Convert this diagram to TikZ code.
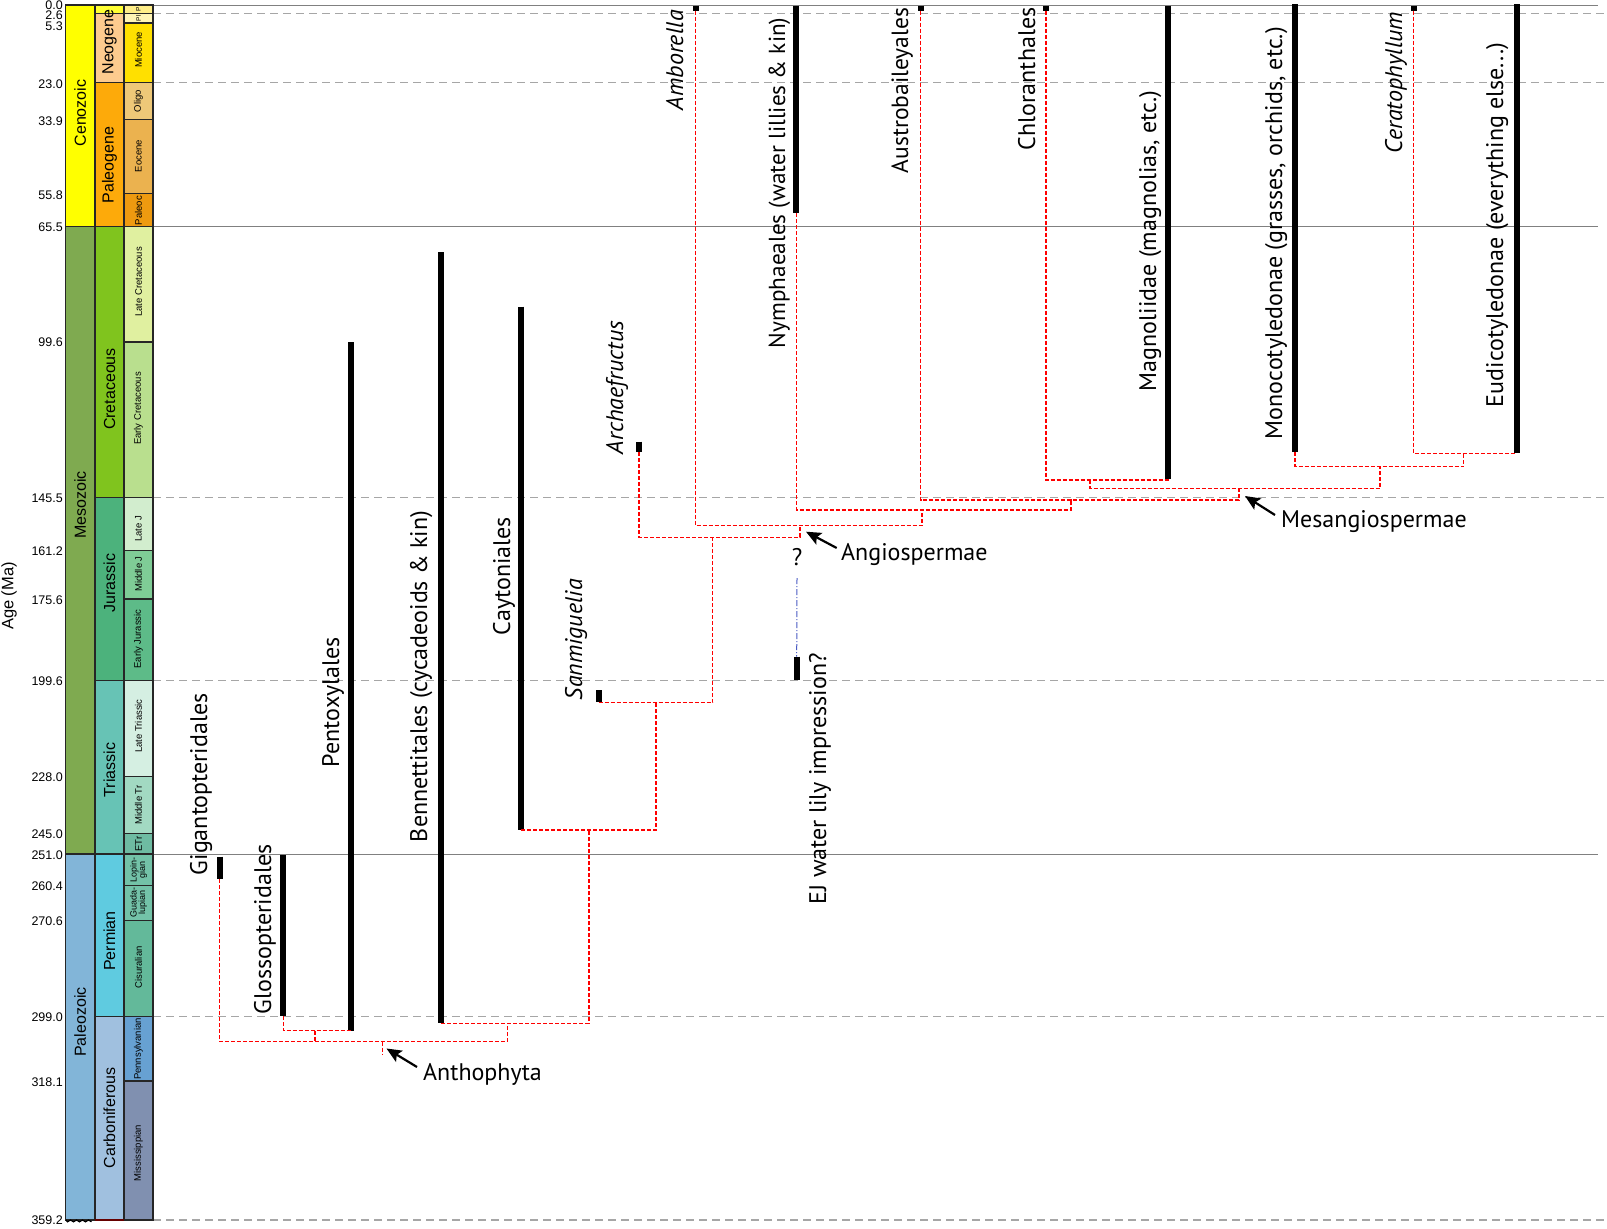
\documentclass[tikz,border=0pt]{standalone}
\usepackage{fontspec}
\setmainfont{PT Sans}
\newfontfamily\tsfont{Liberation Sans}
\usetikzlibrary{arrows.meta}
\pgfmathdeclarefunction{ay}{1}{\pgfmathparse{5+3.3825*#1}}
\definecolor{cenoz}{HTML}{FFFF00}
\definecolor{mesoz}{HTML}{7FAA50}
\definecolor{paleoz}{HTML}{82B5D8}
\definecolor{quat}{HTML}{FFFF33}
\definecolor{neog}{HTML}{FDCB8E}
\definecolor{paleog}{HTML}{FDAA0A}
\definecolor{cret}{HTML}{80C41E}
\definecolor{jur}{HTML}{4CB27C}
\definecolor{tri}{HTML}{67C3B5}
\definecolor{perm}{HTML}{5FCBE0}
\definecolor{carb}{HTML}{A0C0DF}
\definecolor{e1}{HTML}{FFEE88}
\definecolor{e2}{HTML}{FFF5B5}
\definecolor{mio}{HTML}{FFE000}
\definecolor{oli}{HTML}{EEC878}
\definecolor{eoc}{HTML}{EBB24F}
\definecolor{pal}{HTML}{EE9A10}
\definecolor{lcr}{HTML}{E0F0A0}
\definecolor{ecr}{HTML}{B9DF8E}
\definecolor{lj}{HTML}{D2EDCE}
\definecolor{mj}{HTML}{7FCC96}
\definecolor{ej}{HTML}{5DBB88}
\definecolor{ltr}{HTML}{D5EFE2}
\definecolor{mtr}{HTML}{A2D9C2}
\definecolor{etr}{HTML}{6EBBA2}
\definecolor{lop}{HTML}{73C2A8}
\definecolor{gua}{HTML}{73C2A8}
\definecolor{cis}{HTML}{63B99A}
\definecolor{pen}{HTML}{67A1D2}
\definecolor{mis}{HTML}{8090B0}
\definecolor{ejblue}{HTML}{4A5BC4}
\newcommand\taxfont{\fontsize{24}{28}\selectfont}
\begin{document}
\begin{tikzpicture}[x=1pt,y=-1pt,
  bar/.style={line width=6pt},
  clade/.style={red, line width=1.5pt, dash pattern=on 4pt off 2pt},
  gsolid/.style={black!50, line width=1pt},
  gdash/.style={black!35, line width=1.2pt, dash pattern=on 8pt off 5pt},
  tsbox/.style={draw=black!85, line width=1.3pt},
  taxon/.style={rotate=90, anchor=base west, inner sep=0pt, outer sep=0pt, font=\taxfont},
  itaxon/.style={taxon, font=\taxfont\itshape},
  hlab/.style={anchor=base west, inner sep=0pt, font=\taxfont},
  agelab/.style={anchor=east, inner sep=0pt, font=\tsfont\fontsize{12.5}{14}\selectfont},
  eralab/.style={rotate=90, inner sep=0pt, font=\tsfont\fontsize{16}{18}\selectfont},
  eplab/.style={rotate=90, inner sep=0pt, align=center, font=\tsfont\fontsize{9.5}{9.5}\selectfont},
  ptr/.style={-{Stealth[length=15pt,width=13pt,inset=3pt]}, line width=2.2pt},
  ejline/.style={ejblue, line width=1pt, dash pattern=on 6pt off 2pt on 1pt off 2pt}
]
\useasboundingbox (0,0) rectangle (1607,1229);
\fill[white] (0,0) rectangle (1607,1229);

% ---------- reference lines ----------
\draw[gsolid] (153,{ay(0)}) -- (1598,{ay(0)});
\draw[gdash] (153,{ay(2.6)}) -- (1607,{ay(2.6)});
\draw[gdash] (153,{ay(23)}) -- (1607,{ay(23)});
\draw[gsolid] (153,{ay(65.5)}) -- (1598,{ay(65.5)});
\draw[gdash] (153,{ay(145.5)}) -- (1607,{ay(145.5)});
\draw[gdash] (153,{ay(199.6)}) -- (1607,{ay(199.6)});
\draw[gsolid] (153,{ay(251)}) -- (1598,{ay(251)});
\draw[gdash] (153,{ay(299)}) -- (1607,{ay(299)});
\draw[gdash] (153,{ay(359.2)}) -- (1607,{ay(359.2)});

% ---------- time scale ----------
\foreach \a/\b/\c in {0/65.5/cenoz,65.5/251/mesoz,251/359.2/paleoz}
  \draw[tsbox,fill=\c] (65.5,{ay(\a)}) rectangle (95,{ay(\b)});
\foreach \a/\b/\c in {0/2.6/quat,2.6/23/neog,23/65.5/paleog,65.5/145.5/cret,145.5/199.6/jur,199.6/251/tri,251/299/perm,299/359.2/carb}
  \draw[tsbox,fill=\c] (95,{ay(\a)}) rectangle (124,{ay(\b)});
\foreach \a/\b/\c in {0/2.6/e1,2.6/5.3/e2,5.3/23/mio,23/33.9/oli,33.9/55.8/eoc,55.8/65.5/pal,65.5/99.6/lcr,99.6/145.5/ecr,145.5/161.2/lj,161.2/175.6/mj,175.6/199.6/ej,199.6/228/ltr,228/245/mtr,245/251/etr,251/260.4/lop,260.4/270.6/gua,270.6/299/cis,299/318.1/pen,318.1/359.2/mis}
  \draw[tsbox,fill=\c] (124,{ay(\a)}) rectangle (153,{ay(\b)});
\draw[line width=1.3pt, red!40!black] (95,{ay(359.2)}) -- (124,{ay(359.2)});
\draw[line width=1.2pt] (66,1220) \foreach \i in {0,...,8} {-- ({67.5+3*\i},{1220+1.8*mod(\i+1,2)})};

\node[eralab] (era-cen) at (80.25,113) {Cenozoic};
\node[eralab] (era-mes) at (80.25,505) {Mesozoic};
\node[eralab] (era-pal) at (80.25,1022) {Paleozoic};
\node[eralab] (per-neo) at (109.5,42) {Neogene};
\node[eralab] (per-pal) at (109.5,165) {Paleogene};
\node[eralab] (per-cre) at (109.5,389) {Cretaceous};
\node[eralab] (per-jur) at (109.5,583) {Jurassic};
\node[eralab] (per-tri) at (109.5,770) {Triassic};
\node[eralab] (per-per) at (109.5,941) {Permian};
\node[eralab] (per-car) at (109.5,1118) {Carboniferous};

\node[eplab, font=\tsfont\fontsize{6.5}{6.5}\selectfont] (ep-1) at (138.5,{ay(1.3)}) {P};
\node[eplab, font=\tsfont\fontsize{6.5}{6.5}\selectfont] (ep-2) at (138.5,{ay(3.95)}) {Pl};
\node[eplab] (ep-mio) at (138.5,50) {Miocene};
\node[eplab] (ep-oli) at (138.5,101) {Oligo};
\node[eplab] (ep-eoc) at (138.5,156) {Eocene};
\node[eplab] (ep-pal) at (138.5,210.5) {Paleoc};
\node[eplab] (ep-lcr) at (138.5,282) {Late Cretaceous};
\node[eplab] (ep-ecr) at (138.5,408.5) {Early Cretaceous};
\node[eplab] (ep-lj) at (138.5,529) {Late J};
\node[eplab] (ep-mj) at (138.5,574) {Middle J};
\node[eplab] (ep-ej) at (138.5,639) {Early Jurassic};
\node[eplab] (ep-ltr) at (138.5,726) {Late Triassic};
\node[eplab] (ep-mtr) at (138.5,805) {Middle Tr};
\node[eplab] (ep-etr) at (138.5,844) {ETr};
\node[eplab, font=\tsfont\fontsize{9}{8.5}\selectfont] (ep-lop) at (138.5,869.5) {Lopin-\\gian};
\node[eplab, font=\tsfont\fontsize{9}{8.5}\selectfont] (ep-gua) at (138.5,902.5) {Guada-\\lupian};
\node[eplab] (ep-cis) at (138.5,967.5) {Cisuralian};
\node[eplab] (ep-pen) at (138.5,1049) {Pennsylvanian};
\node[eplab] (ep-mis) at (138.5,1153) {Mississippian};

\foreach \t/\yy in {0.0/5.5,2.6/15,5.3/26.5,23.0/84,33.9/121,55.8/195,65.5/227.5,99.6/342.5,145.5/498,161.2/551,175.6/600,199.6/681,228.0/777,245.0/834,251.0/855,260.4/886,270.6/921,299.0/1017,318.1/1082,359.2/1220}
  \node[agelab] (age-\t) at (63,\yy) {\t};
\node[rotate=90, inner sep=0pt, font=\tsfont\fontsize{16.5}{18}\selectfont] (axis-title) at (9,596) {Age (Ma)};

% ---------- taxon ranges ----------
\coordinate (gig-t) at (219.5,856.5);  \coordinate (gig-b) at (219.5,879);
\coordinate (glo-t) at (283.3,855);    \coordinate (glo-b) at (283.3,1016);
\coordinate (pen-t) at (351.2,342.3);  \coordinate (pen-b) at (351.2,1030.7);
\coordinate (ben-t) at (441.3,252.3);  \coordinate (ben-b) at (441.3,1023.3);
\coordinate (cay-t) at (521.3,306.7);  \coordinate (cay-b) at (521.3,830);
\coordinate (san-t) at (598.5,690);    \coordinate (san-b) at (598.5,702.3);
\coordinate (arc-t) at (639,441.7);    \coordinate (arc-b) at (639,452.3);
\coordinate (amb-t) at (695.5,5.7);    \coordinate (amb-b) at (695.5,10.7);
\coordinate (nym-t) at (796.3,5.7);    \coordinate (nym-b) at (796.3,213.3);
\coordinate (ejl-t) at (796.7,656.7);  \coordinate (ejl-b) at (796.7,680);
\coordinate (aus-t) at (920.5,5.7);    \coordinate (aus-b) at (920.5,10.7);
\coordinate (chl-t) at (1046,5.7);     \coordinate (chl-b) at (1046,10.7);
\coordinate (mag-t) at (1168,5.7);     \coordinate (mag-b) at (1168,479.3);
\coordinate (mon-t) at (1295,4);       \coordinate (mon-b) at (1295,452.3);
\coordinate (cer-t) at (1413.5,5.7);   \coordinate (cer-b) at (1413.5,10.7);
\coordinate (eud-t) at (1516.5,4);     \coordinate (eud-b) at (1516.5,453.3);

\foreach \n in {gig,glo,pen,ben,cay,san,arc,amb,nym,ejl,aus,chl,mag,mon,cer,eud}
  \draw[bar] (\n-t) -- (\n-b);

% ---------- clade junctions ----------
\coordinate (ce-t) at (1463.5,453.3);
\coordinate (me-t) at (1380,466.7);
\coordinate (cm-t) at (1090,480);
\coordinate (mes-t) at (1239,488.3);
\coordinate (am-t) at (1071,500);
\coordinate (ny-t) at (922,510);
\coordinate (ang-t) at (800,525.5);
\coordinate (ar-t) at (712.7,537.3);
\coordinate (sa-t) at (656,702.3);
\coordinate (ca-t) at (589,830);
\coordinate (be-t) at (507.3,1023.3);
\coordinate (gp-t) at (315,1030.7);
\coordinate (gp-s) at (315,1041.7);
\coordinate (root-t) at (382.3,1041.7);
\coordinate (root-s) at (382.3,1055);

\draw[clade] (cer-b) |- (ce-t) -| (eud-b);
\draw[clade] (mon-b) |- (me-t) -| (ce-t);
\draw[clade] (chl-b) |- (cm-t) -| (mag-b);
\draw[clade] (cm-t) |- (mes-t) -| (me-t);
\draw[clade] (aus-b) |- (am-t) -| (mes-t);
\draw[clade] (nym-b) |- (ny-t) -| (am-t);
\draw[clade] (amb-b) |- (ang-t) -| (ny-t);
\draw[clade] (arc-b) |- (ar-t) -| (ang-t);
\draw[clade] (san-b) |- (sa-t) -| (ar-t);
\draw[clade] (cay-b) |- (ca-t) -| (sa-t);
\draw[clade] (ben-b) |- (be-t) -| (ca-t);
\draw[clade] (glo-b) |- (gp-t) -| (pen-b);
\draw[clade] (gig-b) |- (root-t) -| (be-t);
\draw[clade] (gp-t) -- (gp-s);
\draw[clade] (root-t) -- (root-s);

% EJ question mark and dash-dot link
\node[inner sep=0pt, anchor=base, font=\taxfont] (qmark) at (797,565) {?};
\coordinate (ejq) at (797,578);
\draw[ejline] (ejq) -- (ejl-t);

% ---------- taxon labels ----------
\node[taxon] (lab-gig) at (207,875) {Gigantopteridales};
\node[taxon] (lab-glo) at (271,1014) {Glossopteridales};
\node[taxon] (lab-pen) at (339,767) {Pentoxylales};
\node[taxon] (lab-ben) at (427,842) {Bennettitales (cycadeoids \& kin)};
\node[taxon] (lab-cay) at (510,635) {Caytoniales};
\node[itaxon] (lab-san) at (582,700) {Sanmiguelia};
\node[itaxon] (lab-arc) at (623,454) {Archaefructus};
\node[itaxon] (lab-amb) at (683,110) {Amborella};
\node[taxon, font=\fontsize{23.2}{27}\selectfont] (lab-nym) at (785,348) {Nymphaeales (water lillies \& kin)};
\node[taxon] (lab-ejl) at (826,904) {EJ water lily impression?};
\node[taxon, font=\fontsize{23.5}{27}\selectfont] (lab-aus) at (908,173) {Austrobaileyales};
\node[taxon] (lab-chl) at (1035,150) {Chloranthales};
\node[taxon] (lab-mag) at (1156,391) {Magnoliidae (magnolias, etc.)};
\node[taxon] (lab-mon) at (1282,439) {Monocotyledonae (grasses, orchids, etc.)};
\node[itaxon] (lab-cer) at (1402,153) {Ceratophyllum};
\node[taxon] (lab-eud) at (1503,407) {Eudicotyledonae (everything else...)};

% ---------- clade names with arrows ----------
\node[hlab] (lab-anth) at (423,1080) {Anthophyta};
\node[hlab] (lab-angio) at (841,560) {Angiospermae};
\node[hlab] (lab-mesang) at (1281,527) {Mesangiospermae};
\coordinate (anth-tail) at (417,1067);   \coordinate (anth-tip) at (386.5,1048.5);
\coordinate (angio-tail) at (836.7,548); \coordinate (angio-tip) at (806,531.7);
\coordinate (mes-tail) at (1275,515);    \coordinate (mes-tip) at (1245,496);
\draw[ptr] (anth-tail) -- (anth-tip);
\draw[ptr] (angio-tail) -- (angio-tip);
\draw[ptr] (mes-tail) -- (mes-tip);
\end{tikzpicture}
\end{document}
